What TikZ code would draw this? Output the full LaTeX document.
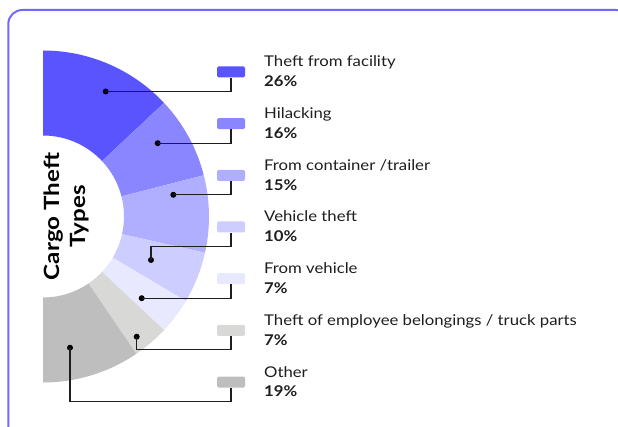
\documentclass[tikz,border=0pt]{standalone}
\usepackage{fontspec}
\setmainfont{Lato}[FakeStretch=1.13]
\newfontfamily\titlefont{Lato}[FakeStretch=1.15]
\definecolor{sa}{RGB}{90,84,255}
\definecolor{sb}{RGB}{138,134,255}
\definecolor{sc}{RGB}{176,174,255}
\definecolor{sd}{RGB}{206,205,255}
\definecolor{se}{RGB}{232,232,255}
\definecolor{sf}{RGB}{216,217,215}
\definecolor{sg}{RGB}{190,190,190}
\definecolor{framec}{RGB}{112,104,255}
\definecolor{txt}{RGB}{30,30,30}
\tikzset{
  swatch/.style={rounded corners=1.5pt, minimum width=28pt, minimum height=11pt, inner sep=0pt, draw=none},
  dotm/.style={circle, fill=black, inner sep=0pt, minimum size=6pt},
  conn/.style={draw=txt, line width=1.2pt},
  lname/.style={anchor=base west, inner sep=0pt, text=txt, font=\fontsize{14.8}{17}\selectfont},
  lpct/.style={anchor=base west, inner sep=0pt, text=txt, font=\fontsize{14.8}{17}\selectfont\bfseries},
}
\begin{document}
\begin{tikzpicture}[x=1pt,y=-1pt]
\useasboundingbox (0,0) rectangle (618,427);
\clip (0,0) rectangle (618,427);
\fill[white] (0,0) rectangle (618,427);
\draw[framec, line width=2pt, rounded corners=14pt] (8.3,10) rectangle (630,445);
% donut slices
\begin{scope}[shift={(43,216.5)}]
\foreach \a/\b/\c in {-90/-43.2/sa, -43.2/-14.4/sb, -14.4/12.6/sc, 12.6/30.6/sd, 30.6/43.2/se, 43.2/55.8/sf, 55.8/90/sg}{
  \fill[\c] (\a:166) arc[start angle=\a, end angle=\b, radius=166] -- (\b:81) arc[start angle=\b, end angle=\a, radius=81] -- cycle;
}
\end{scope}
% title
\node[rotate=90, align=center, font=\titlefont\fontsize{21}{26}\selectfont\bfseries, text=black, inner sep=0pt] (title) at (66,216.5) {Cargo Theft\\Types};
% swatches
\node[swatch, fill=sa] (w1) at (231,72) {};
\node[swatch, fill=sb] (w2) at (231,123.7) {};
\node[swatch, fill=sc] (w3) at (231,175.3) {};
\node[swatch, fill=sd] (w4) at (231,227) {};
\node[swatch, fill=se] (w5) at (231,278.7) {};
\node[swatch, fill=sf] (w6) at (231,330.3) {};
\node[swatch, fill=sg] (w7) at (231,382) {};
% dots
\node[dotm] (d1) at (105.7,91.5) {};
\node[dotm] (d2) at (157.7,143.2) {};
\node[dotm] (d3) at (173.3,194.8) {};
\node[dotm] (d4) at (151,260) {};
\node[dotm] (d5) at (141.7,298.2) {};
\node[dotm] (d6) at (136.7,336.7) {};
\node[dotm] (d7) at (70,347.7) {};
% connectors
\draw[conn] (d1.center) -| (w1.south);
\draw[conn] (d2.center) -| (w2.south);
\draw[conn] (d3.center) -| (w3.south);
\draw[conn] (d4.center) -- (151,246.5) -| (w4.south);
\draw[conn] (d5.center) -| (w5.south);
\draw[conn] (d6.center) -- (136.7,349.8) -| (w6.south);
\draw[conn] (d7.center) -- (70,401.5) -| (w7.south);
% labels
\node[lname] (n1) at (264,67) {Theft from facility};
\node[lpct] (p1) at (264,86.8) {26\%};
\node[lname] (n2) at (264,118.7) {Hilacking};
\node[lpct] (p2) at (264,138.5) {16\%};
\node[lname] (n3) at (264,170.3) {From container /trailer};
\node[lpct] (p3) at (264,190.1) {15\%};
\node[lname] (n4) at (264,222) {Vehicle theft};
\node[lpct] (p4) at (264,241.8) {10\%};
\node[lname] (n5) at (264,273.7) {From vehicle};
\node[lpct] (p5) at (264,293.5) {7\%};
\node[lname] (n6) at (264,325.3) {Theft of employee belongings / truck parts};
\node[lpct] (p6) at (264,345.1) {7\%};
\node[lname] (n7) at (264,377) {Other};
\node[lpct] (p7) at (264,396.8) {19\%};
\end{tikzpicture}
\end{document}
